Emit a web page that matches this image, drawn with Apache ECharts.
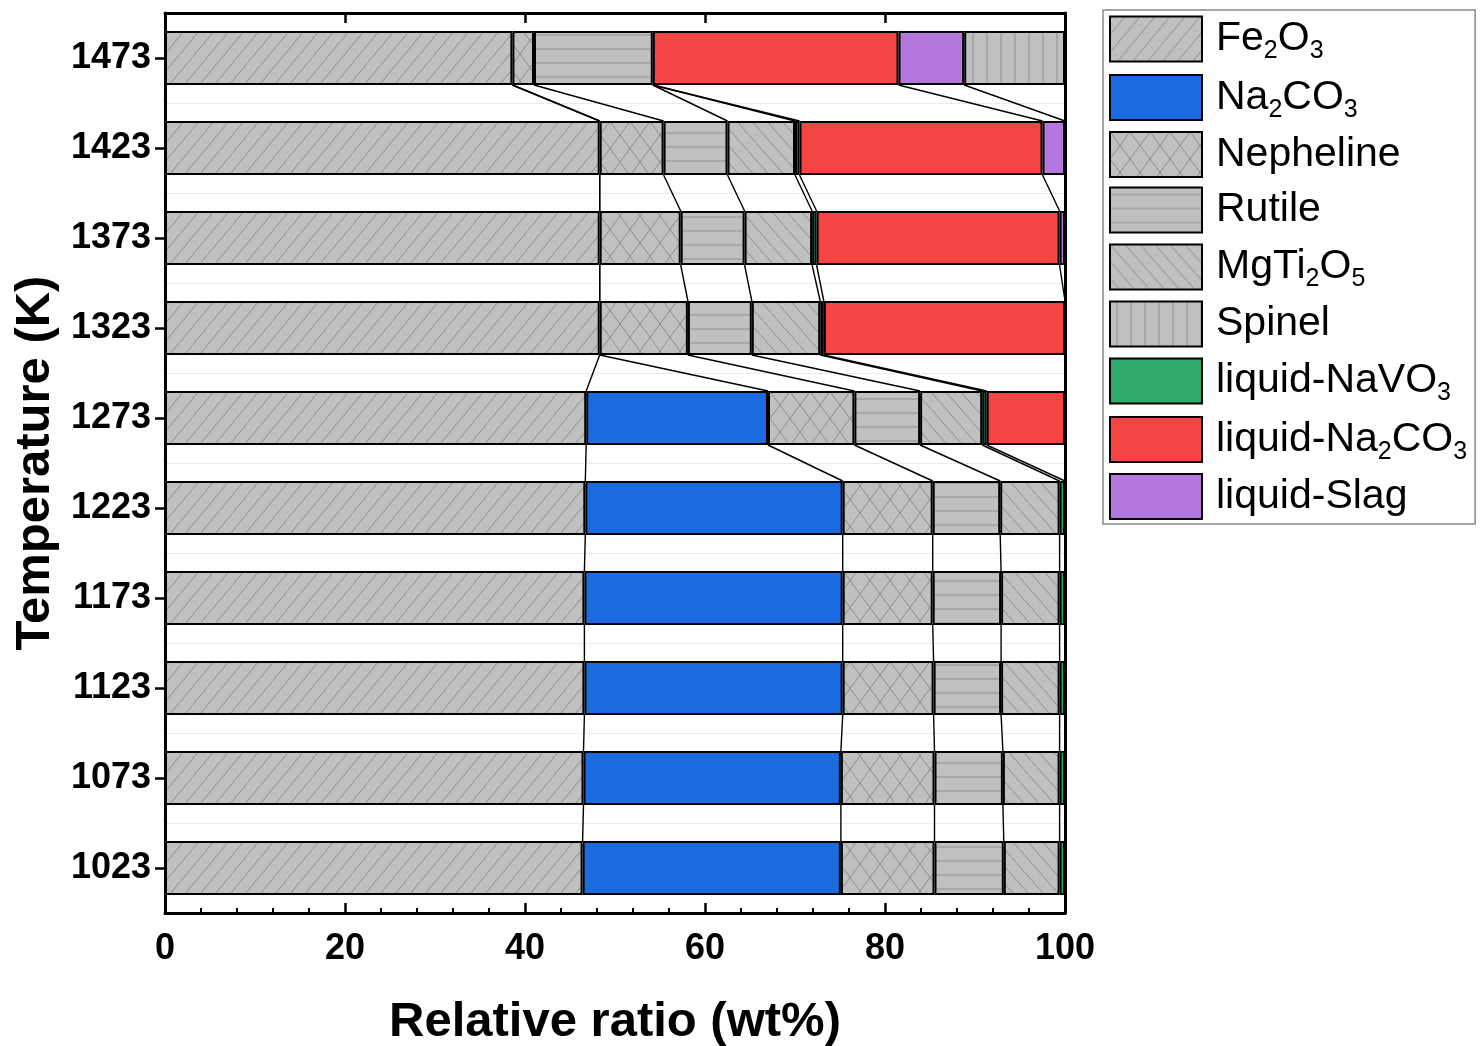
<!DOCTYPE html>
<html>
<head>
<meta charset="utf-8">
<title>Phase composition vs. temperature</title>
<script src="https://cdn.jsdelivr.net/npm/echarts@6/dist/echarts.min.js"></script>
<style>
  html, body { margin: 0; padding: 0; background: #fff; }
  #chart { width: 1481px; height: 1046px; }
</style>
</head>
<body>
<div id="chart"></div>
<script>
// Temperatures (K), listed bottom to top
const temperatures = ['1023', '1073', '1123', '1173', '1223', '1273', '1323', '1373', '1423', '1473'];

// Phase fractions (wt%) at each temperature; null = phase not present
const fe2o3     = [46.4, 46.5, 46.6, 46.6, 46.7, 46.8, 48.3, 48.3, 48.3, 38.6];
const na2co3    = [28.7, 28.6, 28.7, 28.7, 28.6, 20.2, null, null, null, null];
const nepheline = [10.4, 10.4, 10.1, 10.0, 10.0, 9.6, 9.8, 9.0, 7.1, 2.4];
const rutile    = [7.7, 7.6, 7.5, 7.6, 7.5, 7.3, 7.1, 7.1, 7.1, 13.2];
const mgti2o5   = [6.2, 6.3, 6.5, 6.5, 6.6, 6.9, 7.6, 7.5, 7.5, null];
const liqNaVO3  = [0.6, 0.6, 0.6, 0.6, 0.6, 0.5, 0.4, 0.5, 0.5, null];
const liqNa2CO3 = [null, null, null, null, null, 8.7, 26.8, 27.0, 27.0, 27.3];
const liqSlag   = [null, null, null, null, null, null, null, 0.6, 2.5, 7.3];
const spinel    = [null, null, null, null, null, null, null, null, null, 11.2];

// Legend order
const legendNames = ['Fe2O3', 'Na2CO3', 'Nepheline', 'Rutile', 'MgTi2O5', 'Spinel',
                     'liquid-NaVO3', 'liquid-Na2CO3', 'liquid-Slag'];

// Axis ticks
const xTickInterval = 20;

const FONT = "'Liberation Sans', Arial, Helvetica, sans-serif";

// Hatch tiles drawn on small canvases and used as repeating fills
function hatch(kind) {
  const c = document.createElement('canvas');
  let w = 14, h = 14;
  if (kind === 'fwd') { w = 15; h = 18; }
  if (kind === 'back') { w = 15; h = 17; }
  if (kind === 'cross') { w = 20; h = 27; }
  if (kind === 'horiz') { w = 8; h = 14; }
  if (kind === 'vert') { w = 14; h = 8; }
  c.width = w; c.height = h;
  const g = c.getContext('2d');
  g.fillStyle = '#c0c0c0';
  g.fillRect(0, 0, w, h);
  g.strokeStyle = '#8e8e8e';
  g.lineWidth = 1;
  g.beginPath();
  if (kind === 'fwd' || kind === 'cross') {
    g.moveTo(0, h); g.lineTo(w, 0);
    g.moveTo(-w, h); g.lineTo(0, 0);
    g.moveTo(w, h); g.lineTo(2 * w, 0);
  }
  if (kind === 'back' || kind === 'cross') {
    g.moveTo(0, 0); g.lineTo(w, h);
    g.moveTo(-w, 0); g.lineTo(0, h);
    g.moveTo(w, 0); g.lineTo(2 * w, h);
  }
  g.stroke();
  if (kind === 'horiz') {
    g.strokeStyle = '#a2a2a2'; g.lineWidth = 1.6;
    g.beginPath(); g.moveTo(0, h / 2); g.lineTo(w, h / 2); g.stroke();
  }
  if (kind === 'vert') {
    g.strokeStyle = '#a2a2a2'; g.lineWidth = 1.6;
    g.beginPath(); g.moveTo(w / 2, 0); g.lineTo(w / 2, h); g.stroke();
  }
  return { image: c, repeat: 'repeat' };
}

// Stack order of the phases (left to right inside each bar)
const phases = [
  { name: 'Fe2O3',         data: fe2o3,     color: hatch('fwd') },
  { name: 'Na2CO3',        data: na2co3,    color: '#1a6bde' },
  { name: 'Nepheline',     data: nepheline, color: hatch('cross') },
  { name: 'Rutile',        data: rutile,    color: hatch('horiz') },
  { name: 'MgTi2O5',       data: mgti2o5,   color: hatch('back') },
  { name: 'liquid-NaVO3',  data: liqNaVO3,  color: '#2eaa6b' },
  { name: 'liquid-Na2CO3', data: liqNa2CO3, color: '#f54444' },
  { name: 'liquid-Slag',   data: liqSlag,   color: '#b477dd' },
  { name: 'Spinel',        data: spinel,    color: hatch('vert') }
];

// Cumulative right edges of each phase, used for the connector lines between bars
const cumulative = temperatures.map((_, i) => {
  let s = 0;
  return phases.map(p => (s += (p.data[i] || 0)));
});
const connectors = [];
for (let i = 0; i < temperatures.length - 1; i++) {
  for (let k = 0; k < phases.length; k++) {
    connectors.push([i, cumulative[i][k], cumulative[i + 1][k]]);
  }
}

const barSeries = phases.map(p => ({
  name: p.name,
  type: 'bar',
  stack: 'total',
  barCategoryGap: '40%',
  data: p.data,
  itemStyle: { color: p.color, borderColor: '#000', borderWidth: 2 },
  emphasis: { disabled: true },
  z: 3
}));

const connectorSeries = {
  type: 'custom',
  name: 'connectors',
  silent: true,
  z: 2,
  data: connectors,
  encode: { x: [1, 2], y: 0 },
  renderItem(params, api) {
    const lo = api.value(0);
    const xLo = api.value(1);
    const xHi = api.value(2);
    const half = api.size([0, 1])[1] * 0.3;
    const pLo = api.coord([xLo, lo]);
    const pHi = api.coord([xHi, lo + 1]);
    return {
      type: 'line',
      shape: { x1: pHi[0], y1: pHi[1] + half, x2: pLo[0], y2: pLo[1] - half },
      style: { stroke: '#000', lineWidth: 1.4 }
    };
  }
};

const axisLine = { show: true, onZero: false, lineStyle: { color: '#000', width: 3 } };

const option = {
  backgroundColor: '#fff',
  animation: false,
  grid: { left: 165, top: 13, width: 900, height: 900, containLabel: false, outerBoundsMode: 'none' },
  legend: {
    orient: 'vertical',
    left: 1103,
    top: 10,
    padding: [4, 8, 4, 6],
    itemGap: 8.5,
    itemWidth: 92,
    itemHeight: 45,
    icon: 'rect',
    borderColor: '#888',
    borderWidth: 1.5,
    selectedMode: false,
    data: legendNames,
    itemStyle: { borderColor: '#000', borderWidth: 2 },
    formatter: name => '{g|}' + name.replace(/(\d)/g, '{s|$1}'),
    textStyle: {
      fontSize: 41, lineHeight: 44, fontFamily: FONT, color: '#000',
      rich: {
        g: { width: 9 },
        s: { fontSize: 25, lineHeight: 10, fontFamily: FONT, color: '#000', padding: [25, 0, 0, 0] }
      }
    }
  },
  xAxis: [
    {
      type: 'value', position: 'bottom', min: 0, max: 100, interval: xTickInterval,
      axisLine,
      axisTick: { show: true, inside: true, length: 10, lineStyle: { color: '#000', width: 2.5 } },
      minorTick: { show: true, splitNumber: 5, length: 5, lineStyle: { color: '#000', width: 2 } },
      splitLine: { show: false },
      axisLabel: { fontSize: 36, fontWeight: 'bold', fontFamily: FONT, color: '#000', margin: 18 },
      name: 'Relative ratio (wt%)',
      nameLocation: 'middle',
      nameGap: 85,
      nameTextStyle: { fontSize: 49, fontWeight: 'bold', fontFamily: FONT, color: '#000' }
    },
    {
      type: 'value', position: 'top', min: 0, max: 100, interval: xTickInterval,
      axisLine,
      axisTick: { show: true, inside: true, length: 10, lineStyle: { color: '#000', width: 2.5 } },
      splitLine: { show: false },
      axisLabel: { show: false }
    }
  ],
  yAxis: [
    {
      type: 'category', position: 'left', data: temperatures,
      axisLine,
      axisTick: { show: true, alignWithLabel: true, length: 10, lineStyle: { color: '#000', width: 2.5 } },
      splitLine: { show: true, lineStyle: { color: '#d6d6d6', type: 'dotted', width: 1 } },
      axisLabel: { fontSize: 36, fontWeight: 'bold', fontFamily: FONT, color: '#000', margin: 14 },
      name: 'Temperature (K)',
      nameLocation: 'middle',
      nameGap: 104,
      nameTextStyle: { fontSize: 49, fontWeight: 'bold', fontFamily: FONT, color: '#000' }
    },
    {
      type: 'category', position: 'right', data: temperatures,
      axisLine,
      axisTick: { show: false },
      splitLine: { show: false },
      axisLabel: { show: false }
    }
  ],
  series: [connectorSeries, ...barSeries]
};

const chart = echarts.init(document.getElementById('chart'), null, { renderer: 'canvas' });
chart.setOption(option);
</script>
</body>
</html>
